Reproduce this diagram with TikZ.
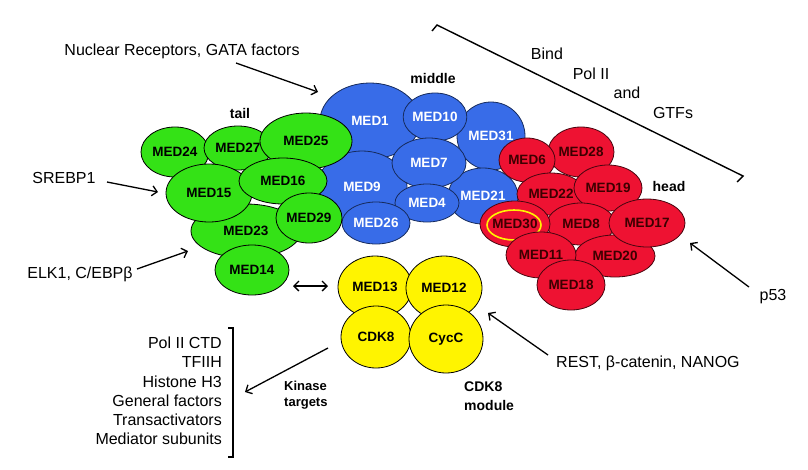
\documentclass[tikz,border=0pt]{standalone}
\usepackage{fontspec}
\setmainfont{Liberation Sans}
\usetikzlibrary{shapes.geometric,arrows.meta}
\definecolor{mgreen}{RGB}{52,226,22}
\definecolor{mblue}{RGB}{56,108,232}
\definecolor{mred}{RGB}{238,18,50}
\definecolor{myellow}{RGB}{255,244,0}
\definecolor{dred}{RGB}{60,0,0}
\begin{document}
\begin{tikzpicture}[x=1pt,y=-1pt,
  sub/.style={ellipse, draw=black, line width=0.8pt, inner sep=0pt, font=\fontsize{13.5}{13.5}\selectfont\bfseries},
  grn/.style={sub, fill=mgreen},
  blu/.style={sub, fill=mblue, text=white, draw=black!60!mblue},
  rd/.style={sub, fill=mred, text=dred, draw=black!70!mred},
  ylw/.style={sub, fill=myellow},
  arr/.style={line width=1.3pt, -{Straight Barb[length=5pt,width=10pt]}},
  darr/.style={line width=1.3pt, {Straight Barb[length=5pt,width=10pt]}-{Straight Barb[length=5pt,width=10pt]}},
  lab/.style={font=\fontsize{16}{16}\selectfont, inner sep=0pt},
  blab/.style={font=\fontsize{14}{14}\selectfont\bfseries, inner sep=0pt},
  brk/.style={line width=1.4pt}]
\useasboundingbox (0,0) rectangle (808,469);

% middle (blue)
\node[blu, minimum width=100pt, minimum height=76pt] (med1) at (370,121) {MED1};
\node[blu, minimum width=90pt, minimum height=72pt] (med9) at (362,187) {MED9};
\node[blu, minimum width=68pt, minimum height=68pt] (med31) at (491,136) {MED31};
\node[blu, minimum width=70pt, minimum height=56pt] (med21) at (483,196) {MED21};
\node[blu, minimum width=62pt, minimum height=48pt] (med10) at (435,117) {MED10};
\node[blu, minimum width=74pt, minimum height=50pt] (med7) at (429,163) {MED7};
\node[blu, minimum width=64pt, minimum height=38pt] (med4) at (427,203) {MED4};
\node[blu, minimum width=68pt, minimum height=42pt] (med26) at (376,223) {MED26};

% tail (green)
\node[grn, minimum width=110pt, minimum height=54pt] (med23) at (246,231) {MED23};
\node[grn, minimum width=68pt, minimum height=50pt] (med24) at (175,152) {MED24};
\node[grn, minimum width=68pt, minimum height=44pt] (med27) at (238,148) {MED27};
\node[grn, minimum width=92pt, minimum height=56pt] (med25) at (306,141) {MED25};
\node[grn, minimum width=86pt, minimum height=58pt] (med15) at (209,193) {MED15};
\node[grn, minimum width=88pt, minimum height=46pt] (med16) at (283,181) {MED16};
\node[grn, minimum width=66pt, minimum height=50pt] (med29) at (309,218) {MED29};
\node[grn, minimum width=74pt, minimum height=50pt] (med14) at (252,270) {MED14};

% head (red)
\node[rd, minimum width=66pt, minimum height=50pt] (med28) at (581,152) {MED28};
\node[rd, minimum width=56pt, minimum height=44pt] (med6) at (527,160) {MED6};
\node[rd, minimum width=68pt, minimum height=42pt] (med22) at (551,194) {MED22};
\node[rd, minimum width=68pt, minimum height=46pt] (med19) at (608,188) {MED19};
\node[rd, minimum width=68pt, minimum height=42pt] (med8) at (581,224) {MED8};
\node[rd, minimum width=80pt, minimum height=42pt] (med20) at (615,256) {MED20};
\node[rd, minimum width=76pt, minimum height=48pt] (med17) at (647,223) {MED17};
\node[rd, minimum width=70pt, minimum height=46pt] (med30) at (515,224) {MED30};
\node[ellipse, draw=myellow, line width=1.6pt, minimum width=54pt, minimum height=30pt] (ring) at (514,225) {};
\node[rd, minimum width=70pt, minimum height=46pt] (med11) at (541,255) {MED11};
\node[rd, minimum width=68pt, minimum height=50pt] (med18) at (571,285) {MED18};

% CDK8 module (yellow)
\node[ylw, minimum width=74pt, minimum height=62pt] (med13) at (375,287) {MED13};
\node[ylw, minimum width=76pt, minimum height=64pt] (med12) at (444,288) {MED12};
\node[ylw, minimum width=70pt, minimum height=62pt] (cdk8) at (376,337) {CDK8};
\node[ylw, minimum width=74pt, minimum height=68pt] (cycc) at (446,339) {CycC};

% module labels
\node[blab] (tail) at (240,113) {tail};
\node[blab] (middle) at (433,78) {middle};
\node[blab] (head) at (669,186) {head};
\node[blab, font=\fontsize{13}{16}\selectfont\bfseries, align=left, anchor=west] (kin) at (284,395) {Kinase\\targets};
\node[blab, align=left, anchor=west, font=\fontsize{14}{19}\selectfont\bfseries] (cdkmod) at (464,396) {CDK8\\module};

% external labels
\node[lab] (nr) at (182,51) {Nuclear Receptors, GATA factors};
\node[lab] (srebp) at (64,178) {SREBP1};
\node[lab] (elk) at (80,274) {ELK1, C/EBPβ};
\node[lab, anchor=west] (rest) at (556,363) {REST, β-catenin, NANOG};
\node[lab] (p53) at (773,297) {p53};
\node[lab] (bind) at (547,54) {Bind};
\node[lab] (pol) at (591,74) {Pol II};
\node[lab] (and) at (627,93) {and};
\node[lab] (gtfs) at (673,113) {GTFs};
\node[lab, align=right, anchor=east, font=\fontsize{16}{19.3}\selectfont] (targets) at (222,391)
  {Pol II CTD\\TFIIH\\Histone H3\\General factors\\Transactivators\\Mediator subunits};

% arrow end points
\coordinate (nrA) at (236,63);   \coordinate (nrB) at (318,92);
\coordinate (srA) at (107,182);  \coordinate (srB) at (158,192);
\coordinate (elA) at (137,269);  \coordinate (elB) at (188,251);
\coordinate (reA) at (548,355);  \coordinate (reB) at (488,313);
\coordinate (p5A) at (749,287);  \coordinate (p5B) at (690,243);
\coordinate (kiA) at (328,348);  \coordinate (kiB) at (245,392);
\coordinate (dbA) at (293,286);  \coordinate (dbB) at (328,286);

\draw[arr] (nrA) -- (nrB);
\draw[arr] (srA) -- (srB);
\draw[arr] (elA) -- (elB);
\draw[arr] (reA) -- (reB);
\draw[arr] (p5A) -- (p5B);
\draw[arr] (kiA) -- (kiB);
\draw[darr] (dbA) -- (dbB);

% brackets
\coordinate (tb1) at (432,31); \coordinate (tb2) at (437,25);
\coordinate (tb3) at (743,176); \coordinate (tb4) at (737,182);
\draw[brk] (tb1) -- (tb2) -- (tb3) -- (tb4);
\coordinate (lb1) at (228,328); \coordinate (lb2) at (233,328);
\coordinate (lb3) at (233,457); \coordinate (lb4) at (228,457);
\draw[brk] (lb1) -- (lb2) -- (lb3) -- (lb4);
\end{tikzpicture}
\end{document}
